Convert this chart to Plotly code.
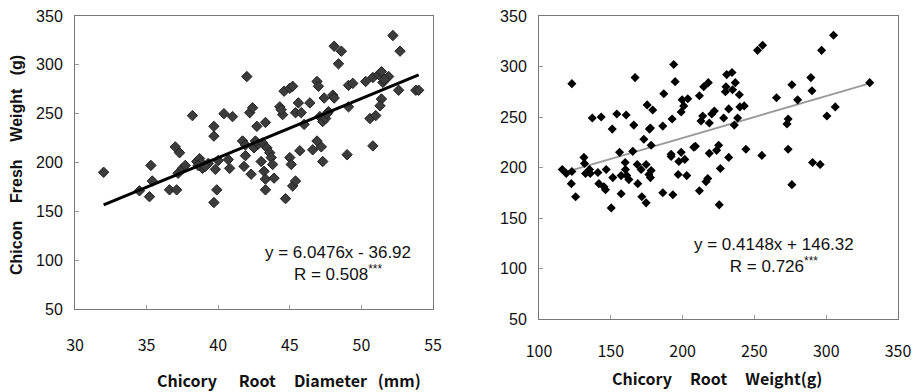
import plotly.graph_objects as go

# ---- Left panel: Chicory root diameter (mm) vs chicon fresh weight (g)
diam = [32.0, 34.5, 35.2, 35.3, 35.4, 36.6, 37.1, 37.0, 37.3, 37.2, 37.5, 37.7, 38.2, 38.5, 38.7,
        38.8, 38.9, 39.3, 39.7, 39.7, 39.9, 39.8, 40.0, 40.4, 40.7, 40.8, 41.0, 41.7, 41.9, 42.0,
        42.2, 42.4, 41.9, 41.8, 42.3, 42.7, 42.5, 42.8, 43.1, 43.3, 43.0, 43.2, 43.3, 43.4, 43.6,
        43.7, 43.8, 43.9, 43.3, 44.3, 44.5, 44.6, 45.0, 45.2, 44.7, 45.0, 45.1, 45.2, 45.4, 45.4,
        45.6, 45.8, 45.7, 46.0, 46.4, 46.6, 46.9, 47.0, 46.9, 47.2, 47.3, 47.1, 47.3, 47.4, 47.7,
        48.0, 48.1, 48.1, 48.6, 48.4, 49.0, 49.1, 49.1, 49.4, 50.3, 50.6, 50.8, 51.0, 50.8, 51.2,
        51.4, 51.5, 51.4, 51.3, 51.9, 52.2, 52.7, 52.6, 53.8, 54.0, 39.7, 47.5, 47.6, 44.4, 38.6,
        39.1, 51.6, 42.6]
fresh = [190, 171, 165, 197, 181, 172, 172, 216, 210, 189, 194, 197, 248, 201, 204,
         200, 194, 199, 237, 227, 172, 193, 202, 250, 203, 194, 247, 222, 218, 288,
         251, 256, 207, 196, 188, 237, 215, 219, 220, 241, 201, 191, 183, 215, 210,
         205, 198, 184, 172, 257, 249, 273, 276, 278, 163, 205, 198, 176, 181, 251,
         261, 251, 212, 239, 261, 213, 283, 278, 222, 216, 201, 247, 242, 266, 252,
         269, 266, 319, 314, 301, 208, 257, 279, 281, 283, 245, 217, 248, 287, 290,
         293, 282, 265, 258, 288, 330, 314, 274, 274, 274, 159, 245, 250, 254, 197,
         196, 285, 222]
fit_left = (6.0476, -36.92)
fit_left_x = [32.0, 54.0]

# ---- Right panel: Chicory root weight (g) vs chicon fresh weight (g)
root_wt = [116.2, 119.0, 122.9, 122.9, 122.5, 125.5, 131.3, 131.7, 132.4, 135.2, 135.7, 137.1,
           141.0, 141.7, 143.3, 145.2, 146.8, 151.0, 151.4, 154.2, 156.1, 157.2, 157.2, 160.0,
           160.7, 160.2, 161.1, 162.6, 165.3, 166.0, 166.9, 168.4, 168.8, 171.1, 171.6, 173.0,
           174.6, 175.3, 176.5, 176.9, 177.6, 178.1, 179.2, 178.1, 177.6, 186.2, 186.2, 186.9,
           192.7, 193.2, 193.8, 194.8, 192.0, 192.0, 196.9, 197.4, 199.0, 199.0, 199.7, 200.8,
           201.5, 202.9, 203.6, 207.8, 208.9, 211.7, 211.7, 212.8, 214.0, 214.7, 216.3, 217.5,
           217.9, 218.6, 218.6, 220.3, 222.1, 223.7, 225.1, 226.3, 228.6, 229.8, 230.2, 230.7,
           232.1, 232.1, 234.4, 234.8, 236.0, 236.7, 238.3, 239.5, 239.9, 242.9, 244.1, 252.2,
           255.7, 255.2, 265.4, 272.7, 273.5, 273.5, 276.1, 276.1, 280.1, 289.3, 290.1, 290.5,
           295.8, 296.8, 300.5, 305.1, 306.3, 330.3, 150.3, 174.6, 225.5, 146.3]
fresh_r = [198, 194, 196, 283, 184, 171, 210, 204, 194, 198, 194, 249,
           195, 184, 250, 181, 198, 238, 190, 253, 215, 192, 174, 205,
           252, 198, 192, 188, 216, 242, 289, 203, 184, 198, 171, 228,
           203, 262, 193, 238, 239, 222, 257, 197, 190, 241, 175, 273,
           248, 173, 302, 285, 213, 211, 193, 206, 215, 255, 267, 261,
           208, 192, 268, 220, 221, 177, 271, 246, 251, 280, 186, 189,
           284, 244, 214, 253, 256, 217, 222, 199, 249, 275, 280, 292,
           258, 210, 294, 277, 242, 284, 249, 272, 260, 261, 218, 316,
           321, 212, 269, 243, 248, 218, 183, 282, 267, 289, 276, 205,
           203, 316, 251, 331, 260, 284, 160, 165, 163, 178]
fit_right = (0.4148, 146.32)
fit_right_x = [116.0, 330.3]

y_ticks = [50, 100, 150, 200, 250, 300, 350]
x_ticks_left = [30, 35, 40, 45, 50, 55]
x_ticks_right = [100, 150, 200, 250, 300, 350]

W, H = 916, 392
def px(x): return x / W
def py(y): return 1 - y / H

fig = go.Figure()

fig.add_trace(go.Scatter(
    x=diam, y=fresh, mode="markers", xaxis="x", yaxis="y",
    marker=dict(symbol="diamond", size=8, color="#3c3c3c",
                line=dict(color="#222222", width=1)),
    showlegend=False))
fig.add_trace(go.Scatter(
    x=fit_left_x, y=[fit_left[0] * v + fit_left[1] for v in fit_left_x],
    mode="lines", xaxis="x", yaxis="y",
    line=dict(color="#000000", width=3), showlegend=False))

fig.add_trace(go.Scatter(
    x=fit_right_x, y=[fit_right[0] * v + fit_right[1] for v in fit_right_x],
    mode="lines", xaxis="x2", yaxis="y2",
    line=dict(color="#9a9a9a", width=2), showlegend=False))
fig.add_trace(go.Scatter(
    x=root_wt, y=fresh_r, mode="markers", xaxis="x2", yaxis="y2",
    marker=dict(symbol="diamond", size=7, color="#000000",
                line=dict(color="#000000", width=0)),
    showlegend=False))

ytick_font = dict(family="Liberation Sans, Arial", size=16, color="#111111")
xtick_font = dict(family="Noto Sans CJK KR, Noto Sans", size=16, color="#111111")

common_axis = dict(showgrid=False, zeroline=False, showline=True, mirror=True,
                   linecolor="#777777", linewidth=1, ticks="inside", ticklen=4,
                   tickcolor="#999999", automargin=False)

fig.update_layout(
    template="none",
    width=W, height=H,
    margin=dict(l=0, r=0, t=0, b=0),
    paper_bgcolor="white", plot_bgcolor="white",
    xaxis=dict(domain=[px(75), px(433)], range=[30, 55], tickvals=x_ticks_left,
               tickfont=xtick_font, ticklabelstandoff=22, anchor="y", **common_axis),
    yaxis=dict(domain=[py(309), py(16)], range=[50, 350], tickvals=y_ticks,
               tickfont=ytick_font, ticklabelstandoff=8, anchor="x", **common_axis),
    xaxis2=dict(domain=[px(539), px(898)], range=[100, 350], tickvals=x_ticks_right,
                tickfont=xtick_font, ticklabelstandoff=18, anchor="y2", **common_axis),
    yaxis2=dict(domain=[py(319), py(16)], range=[50, 350], tickvals=y_ticks,
                tickfont=ytick_font, ticklabelstandoff=8, anchor="x2", **common_axis),
)

nb = "\u00a0"
ann_font = dict(family="Liberation Sans, Arial", size=17, color="#111111")
title_font = dict(family="Noto Sans CJK KR, Noto Sans", size=16, color="#111111")

def note(x, y, text, font, **kw):
    fig.add_annotation(x=px(x), y=py(y), xref="paper", yref="paper", showarrow=False,
                       xanchor="center", yanchor="middle", text=text, font=font, **kw)

note(338, 263, "y = 6.0476x - 36.92<br>R = 0.508<sup>***</sup>", ann_font, align="center")
note(774, 256, "y = 0.4148x + 146.32<br>R = 0.726<sup>***</sup>", ann_font, align="center")

note(289, 380, f"<b>Chicory{nb*6}Root{nb*5}Diameter{nb*3}(mm)</b>", title_font)
note(717, 378, f"<b>Chicory{nb*5}Root{nb*5}Weight(g)</b>", title_font)
note(16, 165, f"<b>Chicon{nb*4}Fresh{nb*4}Weight{nb*3}(g)</b>",
     dict(family="Liberation Sans, Arial", size=16, color="#111111"), textangle=-90)

fig.write_html("out.html", config={"displayModeBar": False},
               post_script="document.body.style.margin='0px';")
